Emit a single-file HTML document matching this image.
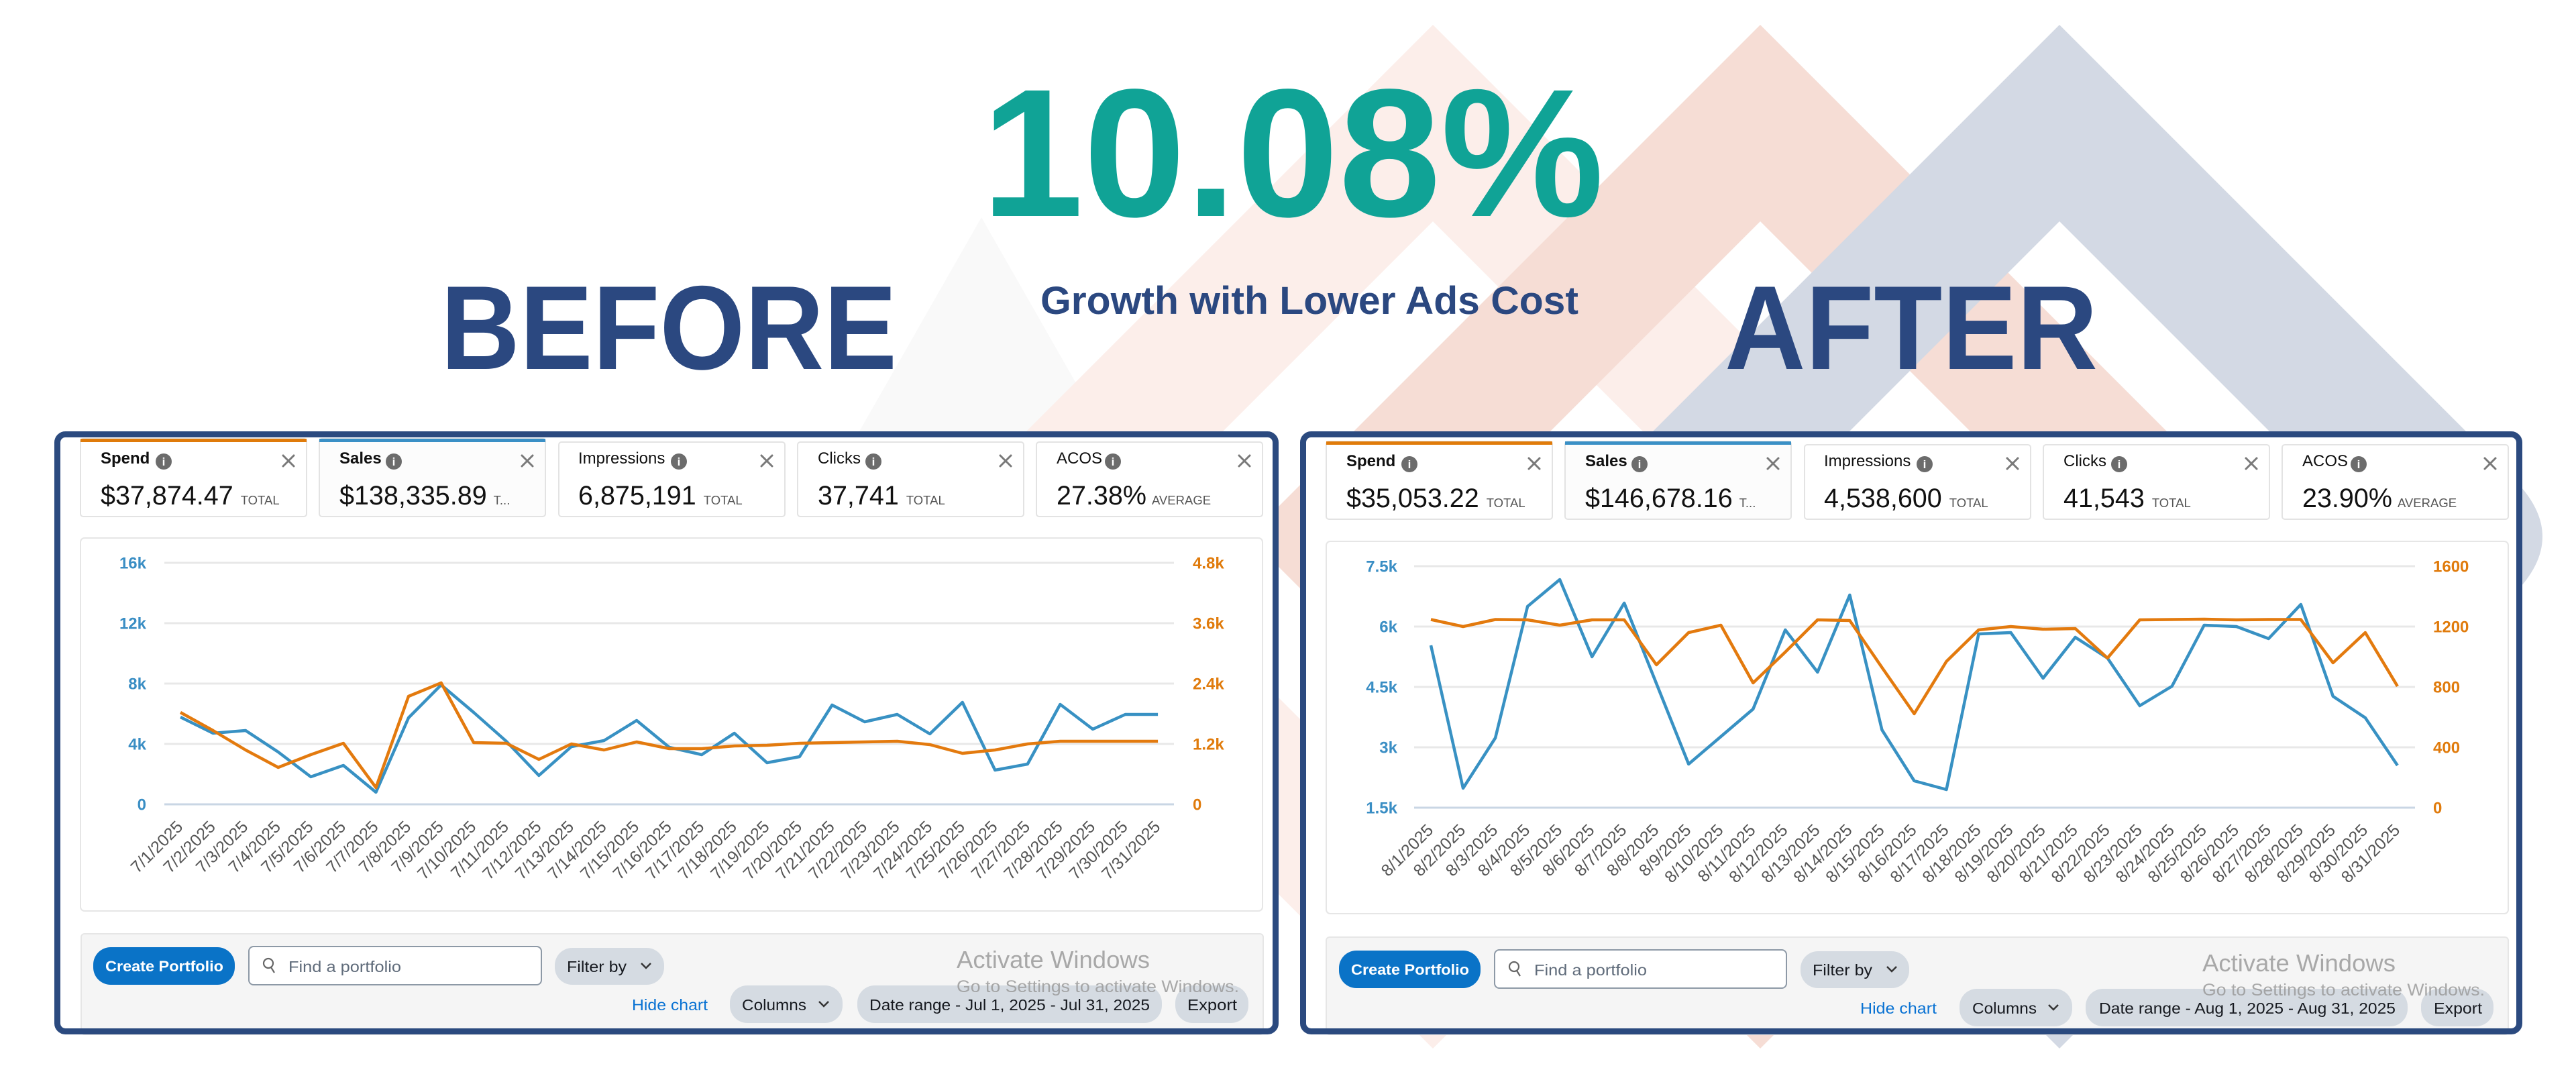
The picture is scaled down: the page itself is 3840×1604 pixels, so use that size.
<!DOCTYPE html>
<html>
<head>
<meta charset="utf-8">
<style>
html,body{margin:0;padding:0;background:#fff;}
body{width:3840px;height:1604px;overflow:hidden;}
svg{display:block;font-family:"Liberation Sans",Arial,sans-serif;}
.xl{font-size:25px;fill:#555;}
.yb{font-size:24px;font-weight:bold;fill:#3A8EC4;}
.yo{font-size:24px;font-weight:bold;fill:#E07B0C;}
.lab{font-size:24px;fill:#111;}
.val{font-size:39.5px;fill:#111;}
.suf{font-size:18.5px;fill:#555;}
.btn{font-size:23px;fill:#16191F;}
.wm1{font-size:36px;fill:#9a9a9a;fill-opacity:0.85;}
.wm2{font-size:25px;fill:#9a9a9a;fill-opacity:0.85;}
</style>
</head>
<body>
<svg width="3840" height="1604" viewBox="0 0 3840 1604" xmlns="http://www.w3.org/2000/svg">
<!-- background diamonds -->
<polygon points="1463,324 1277,650 1649,650" fill="#F9F9F9"/>
<path fill-rule="evenodd" fill="#FCEEEA" d="M2136,37 L2899,800 L2136,1563 L1373,800 Z M2136,330 L1666,800 L2136,1270 L2606,800 Z"/>
<path fill-rule="evenodd" fill="#F6DDD5" d="M2624,37 L3387,800 L2624,1563 L1861,800 Z M2624,330 L2154,800 L2624,1270 L3094,800 Z"/>
<path fill-rule="evenodd" fill="#D3D9E4" d="M3070,37 L3747,714 Q3833,800 3747,886 L3070,1563 L2307,800 Z M3070,330 L2600,800 L3070,1270 L3540,800 Z"/>

<!-- titles -->
<text x="1463" y="322" font-size="272" font-weight="bold" fill="#10A396" textLength="928" lengthAdjust="spacingAndGlyphs">10.08%</text>
<text x="657" y="550" font-size="178" font-weight="bold" fill="#2B4880" textLength="680" lengthAdjust="spacingAndGlyphs">BEFORE</text>
<text x="2571" y="550" font-size="178" font-weight="bold" fill="#2B4880" textLength="556" lengthAdjust="spacingAndGlyphs">AFTER</text>
<text x="1551" y="468" font-size="58" font-weight="bold" fill="#2B4880" textLength="802" lengthAdjust="spacingAndGlyphs">Growth with Lower Ads Cost</text>

<!-- ================= LEFT PANEL ================= -->
<rect x="85.5" y="647.5" width="1816" height="890" rx="12" fill="#fff"/>
<!-- cards -->
<rect x="120" y="654" width="337" height="116" rx="4" fill="#fff" stroke="#E3E3E3" stroke-width="2"/>
<rect x="120" y="654" width="337" height="5" fill="#E07B0A"/>
<rect x="476" y="654" width="337" height="116" rx="4" fill="#FCFCFC" stroke="#E3E3E3" stroke-width="2"/>
<rect x="476" y="654" width="337" height="5" fill="#3A90C6"/>
<rect x="833" y="659" width="337" height="111" rx="4" fill="#fff" stroke="#E3E3E3" stroke-width="2"/>
<rect x="1189" y="659" width="337" height="111" rx="4" fill="#fff" stroke="#E3E3E3" stroke-width="2"/>
<rect x="1545" y="659" width="337" height="111" rx="4" fill="#fff" stroke="#E3E3E3" stroke-width="2"/>
<text x="150" y="691" class="lab" font-weight="bold">Spend</text>
<text x="506" y="691" class="lab" font-weight="bold">Sales</text>
<text x="862" y="691" class="lab">Impressions</text>
<text x="1219" y="691" class="lab">Clicks</text>
<text x="1575" y="691" class="lab">ACOS</text>
<g fill="#6C6C6C"><circle cx="244" cy="688" r="12"/><circle cx="587" cy="688" r="12"/><circle cx="1012" cy="688" r="12"/><circle cx="1302" cy="688" r="12"/><circle cx="1659" cy="688" r="12"/></g>
<g font-size="17" font-weight="bold" fill="#fff" text-anchor="middle"><text x="244" y="694">i</text><text x="587" y="694">i</text><text x="1012" y="694">i</text><text x="1302" y="694">i</text><text x="1659" y="694">i</text></g>
<g stroke="#7A7A7A" stroke-width="3" stroke-linecap="round">
<path d="M422,679 L438,695 M438,679 L422,695"/><path d="M778,679 L794,695 M794,679 L778,695"/><path d="M1135,679 L1151,695 M1151,679 L1135,695"/><path d="M1491,679 L1507,695 M1507,679 L1491,695"/><path d="M1847,679 L1863,695 M1863,679 L1847,695"/>
</g>
<text x="150" y="752" class="val">$37,874.47<tspan dx="11" class="suf">TOTAL</tspan></text>
<text x="506" y="752" class="val">$138,335.89<tspan dx="10" class="suf">T...</tspan></text>
<text x="862" y="752" class="val">6,875,191<tspan dx="11" class="suf">TOTAL</tspan></text>
<text x="1219" y="752" class="val">37,741<tspan dx="11" class="suf">TOTAL</tspan></text>
<text x="1575" y="752" class="val">27.38%<tspan dx="8" class="suf">AVERAGE</tspan></text>

<!-- chart box -->
<rect x="120" y="802" width="1762" height="556" rx="6" fill="#fff" stroke="#E6E6E6" stroke-width="2"/>
<g stroke="#E8E8E8" stroke-width="3">
<line x1="245" y1="839" x2="1750" y2="839"/><line x1="245" y1="929" x2="1750" y2="929"/><line x1="245" y1="1019" x2="1750" y2="1019"/><line x1="245" y1="1109" x2="1750" y2="1109"/>
</g>
<line x1="245" y1="1199" x2="1750" y2="1199" stroke="#C9D6E4" stroke-width="3"/>
<g class="yb" text-anchor="end"><text x="218" y="847.5" class="yb">16k</text><text x="218" y="937.5" class="yb">12k</text><text x="218" y="1027.5" class="yb">8k</text><text x="218" y="1117.5" class="yb">4k</text><text x="218" y="1207.5" class="yb">0</text></g>
<g><text x="1778" y="847.5" class="yo">4.8k</text><text x="1778" y="937.5" class="yo">3.6k</text><text x="1778" y="1027.5" class="yo">2.4k</text><text x="1778" y="1117.5" class="yo">1.2k</text><text x="1778" y="1207.5" class="yo">0</text></g>
<polyline fill="none" stroke="#3891C3" stroke-width="4.5" stroke-linejoin="round" points="269,1069 317.6,1093 366.1,1089 414.7,1121 463.3,1158 511.9,1141 560.4,1181 609,1070 657.6,1021 706.1,1062 754.7,1105 803.3,1156 851.8,1113 900.4,1104 949,1074 997.6,1114 1046.1,1125 1094.7,1093 1143.3,1137 1191.8,1128 1240.4,1051 1289,1076 1337.5,1065 1386.1,1094 1434.7,1047 1483.3,1148 1531.8,1139 1580.4,1050 1629,1087 1677.5,1065 1726.1,1065"/>
<polyline fill="none" stroke="#E37A0E" stroke-width="4.5" stroke-linejoin="round" points="269,1062 317.6,1089 366.1,1118 414.7,1144 463.3,1125 511.9,1108 560.4,1174 609,1038 657.6,1018 706.1,1107 754.7,1108 803.3,1132 851.8,1109 900.4,1118 949,1106 997.6,1116 1046.1,1116 1094.7,1112 1143.3,1111 1191.8,1108 1240.4,1107 1289,1106 1337.5,1105 1386.1,1110 1434.7,1123 1483.3,1118 1531.8,1109 1580.4,1105 1629,1105 1677.5,1105 1726.1,1105"/>
<g class="xl" text-anchor="end">
<text transform="translate(274,1234) rotate(-45)">7/1/2025</text>
<text transform="translate(322.6,1234) rotate(-45)">7/2/2025</text>
<text transform="translate(371.1,1234) rotate(-45)">7/3/2025</text>
<text transform="translate(419.7,1234) rotate(-45)">7/4/2025</text>
<text transform="translate(468.3,1234) rotate(-45)">7/5/2025</text>
<text transform="translate(516.9,1234) rotate(-45)">7/6/2025</text>
<text transform="translate(565.4,1234) rotate(-45)">7/7/2025</text>
<text transform="translate(614,1234) rotate(-45)">7/8/2025</text>
<text transform="translate(662.6,1234) rotate(-45)">7/9/2025</text>
<text transform="translate(711.1,1234) rotate(-45)">7/10/2025</text>
<text transform="translate(759.7,1234) rotate(-45)">7/11/2025</text>
<text transform="translate(808.3,1234) rotate(-45)">7/12/2025</text>
<text transform="translate(856.8,1234) rotate(-45)">7/13/2025</text>
<text transform="translate(905.4,1234) rotate(-45)">7/14/2025</text>
<text transform="translate(954,1234) rotate(-45)">7/15/2025</text>
<text transform="translate(1002.6,1234) rotate(-45)">7/16/2025</text>
<text transform="translate(1051.1,1234) rotate(-45)">7/17/2025</text>
<text transform="translate(1099.7,1234) rotate(-45)">7/18/2025</text>
<text transform="translate(1148.3,1234) rotate(-45)">7/19/2025</text>
<text transform="translate(1196.8,1234) rotate(-45)">7/20/2025</text>
<text transform="translate(1245.4,1234) rotate(-45)">7/21/2025</text>
<text transform="translate(1294,1234) rotate(-45)">7/22/2025</text>
<text transform="translate(1342.5,1234) rotate(-45)">7/23/2025</text>
<text transform="translate(1391.1,1234) rotate(-45)">7/24/2025</text>
<text transform="translate(1439.7,1234) rotate(-45)">7/25/2025</text>
<text transform="translate(1488.3,1234) rotate(-45)">7/26/2025</text>
<text transform="translate(1536.8,1234) rotate(-45)">7/27/2025</text>
<text transform="translate(1585.4,1234) rotate(-45)">7/28/2025</text>
<text transform="translate(1634,1234) rotate(-45)">7/29/2025</text>
<text transform="translate(1682.5,1234) rotate(-45)">7/30/2025</text>
<text transform="translate(1731.1,1234) rotate(-45)">7/31/2025</text>
</g>

<!-- toolbar -->
<rect x="121" y="1392" width="1762" height="150" rx="5" fill="#F5F5F5" stroke="#E6E6E6" stroke-width="2"/>
<rect x="139" y="1412" width="211" height="56" rx="26" fill="#0A73C7"/>
<text x="157" y="1448" font-size="22" font-weight="bold" fill="#fff" textLength="176" lengthAdjust="spacingAndGlyphs">Create Portfolio</text>
<rect x="371" y="1411" width="436" height="57" rx="7" fill="#fff" stroke="#8D99A6" stroke-width="2"/>
<circle cx="400" cy="1436" r="7" fill="none" stroke="#666" stroke-width="2.2"/>
<line x1="404" y1="1442" x2="409" y2="1450" stroke="#666" stroke-width="2.2"/>
<text x="430" y="1449" class="btn" fill="#5F6B7A" style="fill:#5F6B7A" textLength="168" lengthAdjust="spacingAndGlyphs">Find a portfolio</text>
<rect x="827" y="1413" width="163" height="55" rx="26" fill="#D5DBE2"/>
<text x="845" y="1449" class="btn" textLength="89" lengthAdjust="spacingAndGlyphs">Filter by</text>
<polyline points="956,1436 963,1443 970,1436" fill="none" stroke="#333" stroke-width="2.5"/>
<text x="942" y="1506" class="btn" style="fill:#0972D3" textLength="113" lengthAdjust="spacingAndGlyphs">Hide chart</text>
<rect x="1088" y="1469" width="168" height="56" rx="26" fill="#D5DBE2"/>
<text x="1106" y="1506" class="btn" textLength="96" lengthAdjust="spacingAndGlyphs">Columns</text>
<polyline points="1221,1493 1228,1500 1235,1493" fill="none" stroke="#333" stroke-width="2.5"/>
<rect x="1278" y="1469" width="454" height="56" rx="26" fill="#D5DBE2"/>
<text x="1296" y="1506" class="btn" textLength="418" lengthAdjust="spacingAndGlyphs">Date range - Jul 1, 2025 - Jul 31, 2025</text>
<rect x="1752" y="1469" width="109" height="56" rx="26" fill="#D5DBE2"/>
<text x="1770" y="1506" class="btn" textLength="74" lengthAdjust="spacingAndGlyphs">Export</text>
<text x="1426" y="1443" class="wm1" textLength="288" lengthAdjust="spacingAndGlyphs">Activate Windows</text>
<text x="1426" y="1479" class="wm2" textLength="421" lengthAdjust="spacingAndGlyphs">Go to Settings to activate Windows.</text>
<rect x="85.5" y="647.5" width="1816" height="890" rx="12" fill="none" stroke="#2B4A7F" stroke-width="9"/>

<!-- ================= RIGHT PANEL ================= -->
<rect x="1942.5" y="647.5" width="1813" height="890" rx="12" fill="#fff"/>
<rect x="1977" y="658" width="337" height="116" rx="4" fill="#fff" stroke="#E3E3E3" stroke-width="2"/>
<rect x="1977" y="658" width="337" height="5" fill="#E07B0A"/>
<rect x="2333" y="658" width="337" height="116" rx="4" fill="#FCFCFC" stroke="#E3E3E3" stroke-width="2"/>
<rect x="2333" y="658" width="337" height="5" fill="#3A90C6"/>
<rect x="2690" y="663" width="337" height="111" rx="4" fill="#fff" stroke="#E3E3E3" stroke-width="2"/>
<rect x="3046" y="663" width="337" height="111" rx="4" fill="#fff" stroke="#E3E3E3" stroke-width="2"/>
<rect x="3402" y="663" width="337" height="111" rx="4" fill="#fff" stroke="#E3E3E3" stroke-width="2"/>
<text x="2007" y="695" class="lab" font-weight="bold">Spend</text>
<text x="2363" y="695" class="lab" font-weight="bold">Sales</text>
<text x="2719" y="695" class="lab">Impressions</text>
<text x="3076" y="695" class="lab">Clicks</text>
<text x="3432" y="695" class="lab">ACOS</text>
<g fill="#6C6C6C"><circle cx="2101" cy="692" r="12"/><circle cx="2444" cy="692" r="12"/><circle cx="2869" cy="692" r="12"/><circle cx="3159" cy="692" r="12"/><circle cx="3516" cy="692" r="12"/></g>
<g font-size="17" font-weight="bold" fill="#fff" text-anchor="middle"><text x="2101" y="698">i</text><text x="2444" y="698">i</text><text x="2869" y="698">i</text><text x="3159" y="698">i</text><text x="3516" y="698">i</text></g>
<g stroke="#7A7A7A" stroke-width="3" stroke-linecap="round">
<path d="M2279,683 L2295,699 M2295,683 L2279,699"/><path d="M2635,683 L2651,699 M2651,683 L2635,699"/><path d="M2992,683 L3008,699 M3008,683 L2992,699"/><path d="M3348,683 L3364,699 M3364,683 L3348,699"/><path d="M3704,683 L3720,699 M3720,683 L3704,699"/>
</g>
<text x="2007" y="756" class="val">$35,053.22<tspan dx="11" class="suf">TOTAL</tspan></text>
<text x="2363" y="756" class="val">$146,678.16<tspan dx="10" class="suf">T...</tspan></text>
<text x="2719" y="756" class="val">4,538,600<tspan dx="11" class="suf">TOTAL</tspan></text>
<text x="3076" y="756" class="val">41,543<tspan dx="11" class="suf">TOTAL</tspan></text>
<text x="3432" y="756" class="val">23.90%<tspan dx="8" class="suf">AVERAGE</tspan></text>

<rect x="1977" y="807" width="1762" height="555" rx="6" fill="#fff" stroke="#E6E6E6" stroke-width="2"/>
<g stroke="#E8E8E8" stroke-width="3">
<line x1="2108" y1="844" x2="3600" y2="844"/><line x1="2108" y1="934" x2="3600" y2="934"/><line x1="2108" y1="1024" x2="3600" y2="1024"/><line x1="2108" y1="1114" x2="3600" y2="1114"/>
</g>
<line x1="2108" y1="1204" x2="3600" y2="1204" stroke="#C9D6E4" stroke-width="3"/>
<g text-anchor="end"><text x="2083" y="852.5" class="yb">7.5k</text><text x="2083" y="942.5" class="yb">6k</text><text x="2083" y="1032.5" class="yb">4.5k</text><text x="2083" y="1122.5" class="yb">3k</text><text x="2083" y="1212.5" class="yb">1.5k</text></g>
<g><text x="3627" y="852.5" class="yo">1600</text><text x="3627" y="942.5" class="yo">1200</text><text x="3627" y="1032.5" class="yo">800</text><text x="3627" y="1122.5" class="yo">400</text><text x="3627" y="1212.5" class="yo">0</text></g>
<polyline fill="none" stroke="#3891C3" stroke-width="4.5" stroke-linejoin="round" points="2133,962 2181,1175 2229.1,1100 2277.1,904 2325.1,864 2373.2,979 2421.2,899 2469.2,1019 2517.2,1139 2565.3,1098 2613.3,1057 2661.3,939 2709.4,1002 2757.4,887 2805.4,1088 2853.5,1164 2901.5,1177 2949.5,945 2997.5,943 3045.6,1011 3093.6,950 3141.6,981 3189.7,1052 3237.7,1023 3285.7,932 3333.8,934 3381.8,952 3429.8,901 3477.8,1038 3525.9,1070 3573.9,1141"/>
<polyline fill="none" stroke="#E37A0E" stroke-width="4.5" stroke-linejoin="round" points="2133,923.5 2181,934 2229.1,923.5 2277.1,924 2325.1,932 2373.2,924 2421.2,924 2469.2,991 2517.2,943 2565.3,932 2613.3,1018 2661.3,972 2709.4,924 2757.4,925 2805.4,995 2853.5,1064 2901.5,986 2949.5,939 2997.5,934 3045.6,938 3093.6,937 3141.6,981 3189.7,924 3237.7,923.5 3285.7,923 3333.8,924 3381.8,923.5 3429.8,923.5 3477.8,988 3525.9,943 3573.9,1023"/>
<g class="xl" text-anchor="end">
<text transform="translate(2138,1239) rotate(-45)">8/1/2025</text>
<text transform="translate(2186,1239) rotate(-45)">8/2/2025</text>
<text transform="translate(2234.1,1239) rotate(-45)">8/3/2025</text>
<text transform="translate(2282.1,1239) rotate(-45)">8/4/2025</text>
<text transform="translate(2330.1,1239) rotate(-45)">8/5/2025</text>
<text transform="translate(2378.2,1239) rotate(-45)">8/6/2025</text>
<text transform="translate(2426.2,1239) rotate(-45)">8/7/2025</text>
<text transform="translate(2474.2,1239) rotate(-45)">8/8/2025</text>
<text transform="translate(2522.2,1239) rotate(-45)">8/9/2025</text>
<text transform="translate(2570.3,1239) rotate(-45)">8/10/2025</text>
<text transform="translate(2618.3,1239) rotate(-45)">8/11/2025</text>
<text transform="translate(2666.3,1239) rotate(-45)">8/12/2025</text>
<text transform="translate(2714.4,1239) rotate(-45)">8/13/2025</text>
<text transform="translate(2762.4,1239) rotate(-45)">8/14/2025</text>
<text transform="translate(2810.4,1239) rotate(-45)">8/15/2025</text>
<text transform="translate(2858.5,1239) rotate(-45)">8/16/2025</text>
<text transform="translate(2906.5,1239) rotate(-45)">8/17/2025</text>
<text transform="translate(2954.5,1239) rotate(-45)">8/18/2025</text>
<text transform="translate(3002.5,1239) rotate(-45)">8/19/2025</text>
<text transform="translate(3050.6,1239) rotate(-45)">8/20/2025</text>
<text transform="translate(3098.6,1239) rotate(-45)">8/21/2025</text>
<text transform="translate(3146.6,1239) rotate(-45)">8/22/2025</text>
<text transform="translate(3194.7,1239) rotate(-45)">8/23/2025</text>
<text transform="translate(3242.7,1239) rotate(-45)">8/24/2025</text>
<text transform="translate(3290.7,1239) rotate(-45)">8/25/2025</text>
<text transform="translate(3338.8,1239) rotate(-45)">8/26/2025</text>
<text transform="translate(3386.8,1239) rotate(-45)">8/27/2025</text>
<text transform="translate(3434.8,1239) rotate(-45)">8/28/2025</text>
<text transform="translate(3482.8,1239) rotate(-45)">8/29/2025</text>
<text transform="translate(3530.9,1239) rotate(-45)">8/30/2025</text>
<text transform="translate(3578.9,1239) rotate(-45)">8/31/2025</text>
</g>

<rect x="1977" y="1397" width="1762" height="145" rx="5" fill="#F5F5F5" stroke="#E6E6E6" stroke-width="2"/>
<rect x="1996" y="1417" width="211" height="56" rx="26" fill="#0A73C7"/>
<text x="2014" y="1453" font-size="22" font-weight="bold" fill="#fff" textLength="176" lengthAdjust="spacingAndGlyphs">Create Portfolio</text>
<rect x="2228" y="1416" width="435" height="57" rx="7" fill="#fff" stroke="#8D99A6" stroke-width="2"/>
<circle cx="2257" cy="1441" r="7" fill="none" stroke="#666" stroke-width="2.2"/>
<line x1="2261" y1="1447" x2="2266" y2="1455" stroke="#666" stroke-width="2.2"/>
<text x="2287" y="1454" class="btn" style="fill:#5F6B7A" textLength="168" lengthAdjust="spacingAndGlyphs">Find a portfolio</text>
<rect x="2684" y="1418" width="162" height="55" rx="26" fill="#D5DBE2"/>
<text x="2702" y="1454" class="btn" textLength="89" lengthAdjust="spacingAndGlyphs">Filter by</text>
<polyline points="2813,1441 2820,1448 2827,1441" fill="none" stroke="#333" stroke-width="2.5"/>
<text x="2773" y="1511" class="btn" style="fill:#0972D3" textLength="114" lengthAdjust="spacingAndGlyphs">Hide chart</text>
<rect x="2921" y="1474" width="168" height="56" rx="26" fill="#D5DBE2"/>
<text x="2940" y="1511" class="btn" textLength="96" lengthAdjust="spacingAndGlyphs">Columns</text>
<polyline points="3054,1498 3061,1505 3068,1498" fill="none" stroke="#333" stroke-width="2.5"/>
<rect x="3109" y="1474" width="480" height="56" rx="26" fill="#D5DBE2"/>
<text x="3129" y="1511" class="btn" textLength="442" lengthAdjust="spacingAndGlyphs">Date range - Aug 1, 2025 - Aug 31, 2025</text>
<rect x="3609" y="1474" width="108" height="56" rx="26" fill="#D5DBE2"/>
<text x="3628" y="1511" class="btn" textLength="72" lengthAdjust="spacingAndGlyphs">Export</text>
<text x="3283" y="1448" class="wm1" textLength="288" lengthAdjust="spacingAndGlyphs">Activate Windows</text>
<text x="3283" y="1484" class="wm2" textLength="421" lengthAdjust="spacingAndGlyphs">Go to Settings to activate Windows.</text>
<rect x="1942.5" y="647.5" width="1813" height="890" rx="12" fill="none" stroke="#2B4A7F" stroke-width="9"/>
</svg>
</body>
</html>
